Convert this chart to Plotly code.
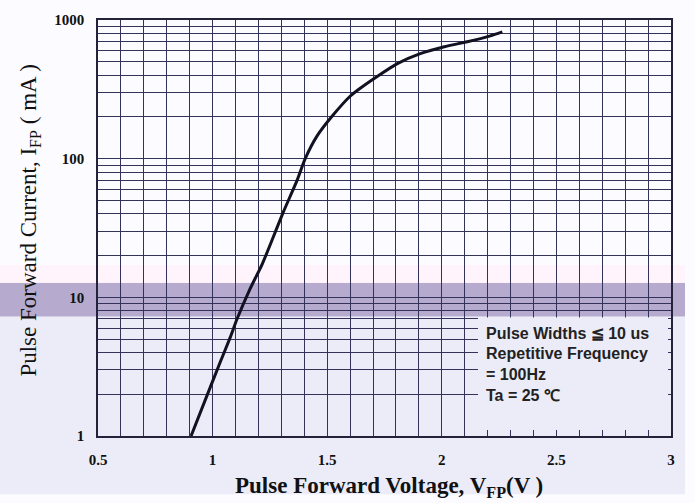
import plotly.graph_objects as go

# Data
vfp = [0.906, 0.99, 1.033, 1.076, 1.107, 1.16, 1.216, 1.26, 1.308, 1.369, 1.404,
       1.456, 1.522, 1.600, 1.644, 1.718, 1.806, 1.906, 2.011, 2.111, 2.212, 2.264]
ifp = [1.0, 2.25, 3.4, 5.1, 7.0, 11.2, 17.3, 26, 41, 70, 100,
       146, 203, 282, 322, 392, 485, 572, 642, 697, 769, 821]

x_tick_vals = [round(0.5 + 0.1 * i, 1) for i in range(26)]
x_tick_text = ["<b>%g</b>" % v if abs(v * 2 - round(v * 2)) < 1e-9 else "" for v in x_tick_vals]
y_tick_vals = [m * 10 ** d for d in range(3) for m in range(1, 10)] + [1000]
y_tick_text = ["<b>%d</b>" % v if v in (1, 10, 100, 1000) else "" for v in y_tick_vals]

note_lines = ["Pulse Widths \u2266 10 us", "Repetitive Frequency", "= 100Hz", "Ta = 25 \u2103"]

W, H = 695, 503
L, R, T, B = 98, 671, 15, 436

def px(x):
    return (x - L) / (R - L)

def py(y):
    return (B - y) / (B - T)

fig = go.Figure()
fig.add_trace(go.Scatter(x=vfp, y=ifp, mode="lines",
                         line=dict(color="#111122", width=3, shape="spline", smoothing=0.6),
                         hoverinfo="skip", showlegend=False))

grid_col = "#33335a"
serif = "Liberation Serif, Times New Roman, serif"

fig.update_layout(
    width=W, height=H,
    margin=dict(l=L, r=W - R, t=T, b=H - B),
    paper_bgcolor="#fcfbff",
    plot_bgcolor="rgba(0,0,0,0)",
    showlegend=False,
    xaxis=dict(range=[0.5, 3], tickvals=x_tick_vals, ticktext=x_tick_text,
               showgrid=True, gridcolor=grid_col, gridwidth=1.2,
               showline=True, linecolor="#22223a", linewidth=1.5, mirror=True,
               zeroline=False, ticks="",
               tickfont=dict(family=serif, size=15, color="#111"),
               ticklabelstandoff=9),
    yaxis=dict(type="log", range=[0, 3], tickvals=y_tick_vals, ticktext=y_tick_text,
               showgrid=True, gridcolor=grid_col, gridwidth=1.2,
               showline=True, linecolor="#22223a", linewidth=1.5, mirror=True,
               zeroline=False, ticks="",
               tickfont=dict(family=serif, size=15, color="#111"),
               ticklabelstandoff=9),
)

# background tint regions (scan colouring)
fig.add_shape(type="rect", xref="paper", yref="paper", layer="below",
              x0=px(0), x1=px(685), y0=py(495), y1=py(315),
              fillcolor="#ececf9", line=dict(width=0))
fig.add_shape(type="rect", xref="paper", yref="paper", layer="below",
              x0=px(0), x1=px(685), y0=py(315), y1=py(281),
              fillcolor="#b6abcf", line=dict(width=0))
fig.add_shape(type="rect", xref="paper", yref="paper", layer="below",
              x0=px(0), x1=px(685), y0=py(281), y1=py(263),
              fillcolor="#fff4fb", line=dict(width=0))
# note box covering grid
fig.add_shape(type="rect", xref="paper", yref="paper", layer="above",
              x0=px(478), x1=px(668), y0=py(430), y1=py(316),
              fillcolor="#ececf9", line=dict(width=0))

for i, t in enumerate(note_lines):
    fig.add_annotation(xref="paper", yref="paper", x=px(484), y=py(332 + i * 21),
                       text="<b>%s</b>" % t, showarrow=False, xanchor="left", yanchor="middle",
                       font=dict(family="Liberation Sans, Arial, sans-serif", size=16, color="#222"))

fig.add_annotation(xref="paper", yref="paper", x=px(389), y=py(488),
                   text="<b>Pulse Forward Voltage, V<sub>FP</sub>(V )</b>", showarrow=False,
                   xanchor="center", yanchor="middle",
                   font=dict(family=serif, size=23, color="#111"))
fig.add_annotation(xref="paper", yref="paper", x=px(30), y=py(218),
                   text="Pulse Forward Current, I<sub>FP</sub> ( mA )", showarrow=False,
                   textangle=-90, xanchor="center", yanchor="middle",
                   font=dict(family=serif, size=23, color="#111"))

fig.write_html("out.html", config={"displayModeBar": False},
               post_script="document.body.style.margin='0';document.body.style.padding='0';")
